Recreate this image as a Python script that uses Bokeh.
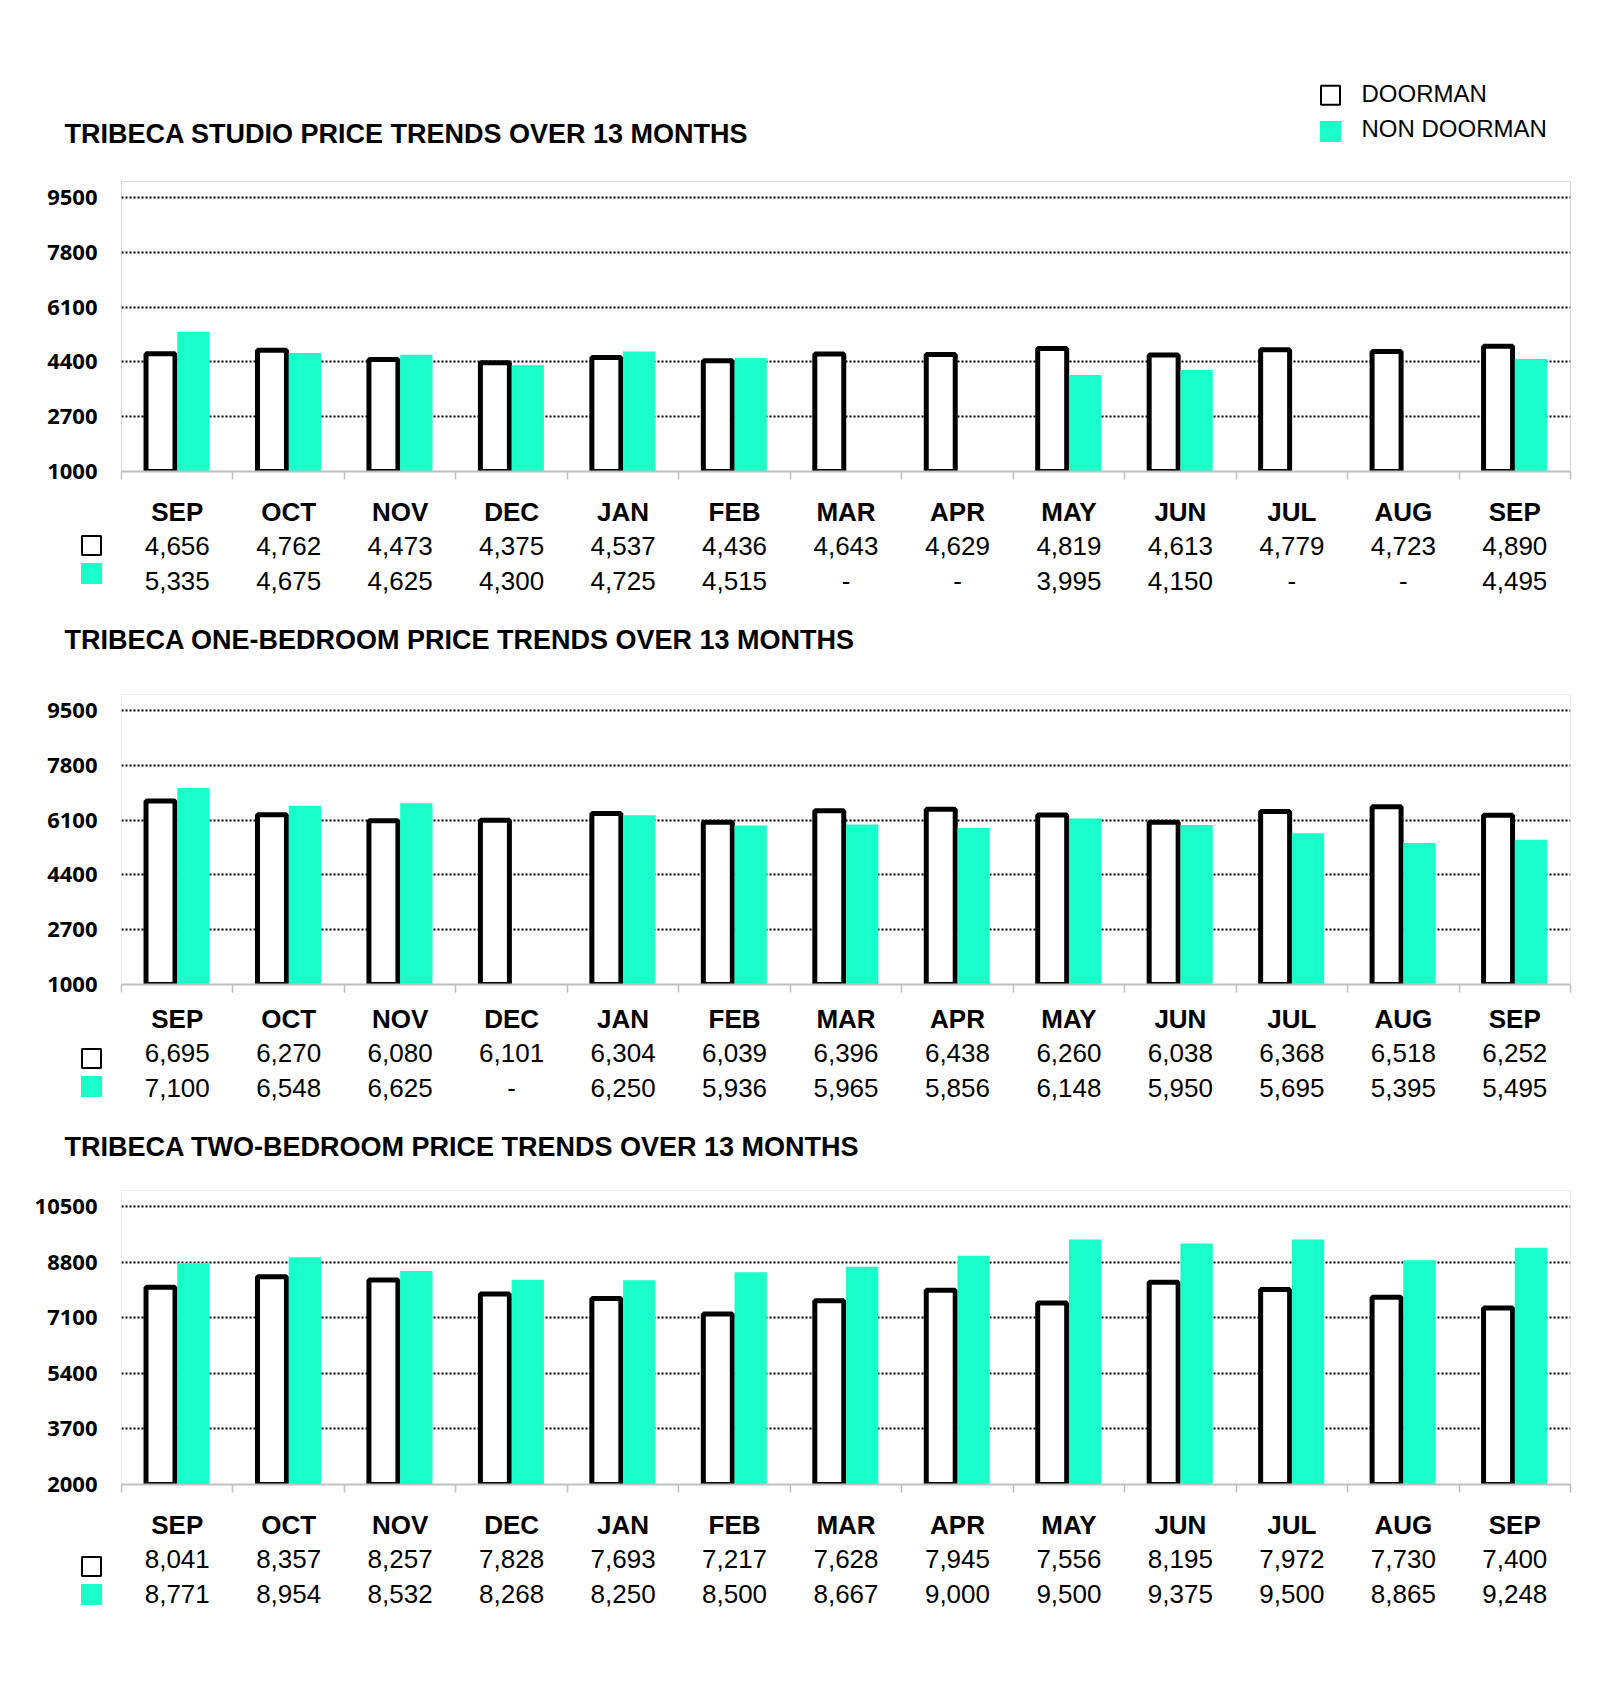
import math
from bokeh.plotting import figure
from bokeh.models import Range1d, FixedTicker, ColumnDataSource
from bokeh.layouts import column
from bokeh.embed import file_html
from bokeh.resources import INLINE
from bokeh.core.properties import value
from bokeh.transform import dodge

# ---------------- data ----------------
months = ["SEP", "OCT", "NOV", "DEC", "JAN", "FEB", "MAR", "APR", "MAY", "JUN", "JUL", "AUG", "SEP"]

studio_doorman = [4656, 4762, 4473, 4375, 4537, 4436, 4643, 4629, 4819, 4613, 4779, 4723, 4890]
studio_non_doorman = [5335, 4675, 4625, 4300, 4725, 4515, None, None, 3995, 4150, None, None, 4495]

one_bed_doorman = [6695, 6270, 6080, 6101, 6304, 6039, 6396, 6438, 6260, 6038, 6368, 6518, 6252]
one_bed_non_doorman = [7100, 6548, 6625, None, 6250, 5936, 5965, 5856, 6148, 5950, 5695, 5395, 5495]

two_bed_doorman = [8041, 8357, 8257, 7828, 7693, 7217, 7628, 7945, 7556, 8195, 7972, 7730, 7400]
two_bed_non_doorman = [8771, 8954, 8532, 8268, 8250, 8500, 8667, 9000, 9500, 9375, 9500, 8865, 9248]

studio_ticks = [1000, 2700, 4400, 6100, 7800, 9500]
one_bed_ticks = [1000, 2700, 4400, 6100, 7800, 9500]
two_bed_ticks = [2000, 3700, 5400, 7100, 8800, 10500]
studio_tick_labels = ["1000", "2700", "4400", "6100", "7800", "9500"]
one_bed_tick_labels = ["1000", "2700", "4400", "6100", "7800", "9500"]
two_bed_tick_labels = ["2000", "3700", "5400", "7100", "8800", "10500"]

titles = [
    "TRIBECA STUDIO PRICE TRENDS OVER 13 MONTHS",
    "TRIBECA ONE-BEDROOM PRICE TRENDS OVER 13 MONTHS",
    "TRIBECA TWO-BEDROOM PRICE TRENDS OVER 13 MONTHS",
]
legend_labels = ["DOORMAN", "NON DOORMAN"]

# ---------------- layout / style ----------------
PAGE_W = 1600
FRAME_L, FRAME_R = 121, 1570        # page-pixel edges of every plot frame
N = len(months)
S = (FRAME_R - FRAME_L) / N
BOTTOM = 16


def px2x(px):
    return (px - FRAME_L) / S


XR = (px2x(0), px2x(PAGE_W))
GREEN = "#1AFFCA"
AXIS_GRAY = "#bfbfbf"
ARIAL = value("Liberation Sans")


def fmt(v):
    return "-" if v is None else f"{v:,}"


def text_fig(h):
    p = figure(width=PAGE_W, height=h, x_range=Range1d(*XR), y_range=Range1d(h, 0),
               output_backend="svg", toolbar_location=None,
               x_axis_location=None, y_axis_location=None, frame_align=False,
               min_border=0, min_border_left=0, min_border_right=0,
               min_border_top=0, min_border_bottom=0)
    p.grid.visible = False
    p.outline_line_color = None
    p.background_fill_color = "white"
    return p


def add_title(p, text, yc):
    p.text(x=[px2x(64)], y=[yc], text=[text], text_font=ARIAL, text_font_style="bold",
           text_font_size="27px", text_align="left", text_baseline="alphabetic", text_color="black")


def add_table(p, dvals, gvals, y_m, y_d, y_g, sq_d, sq_g):
    src = ColumnDataSource(dict(x=[i + 0.5 for i in range(N)], m=months,
                                d=[fmt(v) for v in dvals], g=[fmt(v) for v in gvals]))
    p.text(x="x", y=y_m, text="m", source=src, text_font=ARIAL, text_font_style="bold",
           text_font_size="26px", text_align="center", text_baseline="alphabetic", text_color="black")
    p.text(x="x", y=y_d, text="d", source=src, text_font=ARIAL,
           text_font_size="26px", text_align="center", text_baseline="alphabetic", text_color="black")
    p.text(x="x", y=y_g, text="g", source=src, text_font=ARIAL,
           text_font_size="26px", text_align="center", text_baseline="alphabetic", text_color="black")
    p.scatter(x=[px2x(91)], y=[sq_d], marker="square", size=19, fill_color="white",
              line_color="black", line_width=2)
    p.scatter(x=[px2x(91)], y=[sq_g], marker="square", size=21, fill_color=GREEN, line_color=None)


def bar_fig(frame_h, ymin, ymax, ticks, tick_labels, dvals, gvals, outline):
    p = figure(width=PAGE_W, height=frame_h + BOTTOM, x_range=Range1d(0, N), y_range=Range1d(ymin, ymax),
               output_backend="svg", toolbar_location=None, frame_align=False,
               min_border=0, min_border_left=FRAME_L, min_border_right=PAGE_W - FRAME_R,
               min_border_top=0, min_border_bottom=BOTTOM)
    src = ColumnDataSource(dict(x=[i + 0.5 for i in range(N)], d=dvals,
                                g=[math.nan if v is None else v for v in gvals]))
    p.vbar(x=dodge("x", -0.15, range=p.x_range), top="d", bottom=ymin, width=0.26, source=src,
           fill_color="white", line_color="black", line_width=5)
    p.vbar(x=dodge("x", 0.145, range=p.x_range), top="g", bottom=ymin, width=0.29, source=src,
           fill_color=GREEN, line_color=None)

    xa = p.xaxis[0]
    xa.ticker = FixedTicker(ticks=[], minor_ticks=list(range(N + 1)))
    xa.axis_line_color = AXIS_GRAY
    xa.axis_line_width = 2
    xa.major_tick_line_color = None
    xa.minor_tick_line_color = AXIS_GRAY
    xa.minor_tick_line_width = 1.5
    xa.minor_tick_in = 0
    xa.minor_tick_out = 8

    ya = p.yaxis[0]
    ya.ticker = FixedTicker(ticks=ticks)
    ya.major_label_overrides = {t: lab for t, lab in zip(ticks, tick_labels)}
    ya.axis_line_color = None
    ya.major_tick_line_color = None
    ya.minor_tick_line_color = None
    ya.major_label_standoff = 18
    ya.major_label_text_font = "Open Sans"
    ya.major_label_text_font_style = "bold"
    ya.major_label_text_font_size = "22px"
    ya.major_label_text_color = "black"

    p.xgrid.visible = False
    p.ygrid.ticker = FixedTicker(ticks=ticks[1:])
    p.ygrid.grid_line_color = "black"
    p.ygrid.grid_line_dash = "2 2"
    p.ygrid.grid_line_width = 2.2
    p.outline_line_color = outline
    return p


# header with first title and legend (page y 0 -> 181)
h1 = text_fig(181)
add_title(h1, titles[0], 133.8)
h1.scatter(x=[px2x(1330)], y=[94.7], marker="square", size=19, fill_color="white",
           line_color="black", line_width=2)
h1.scatter(x=[px2x(1330)], y=[131], marker="square", size=21, fill_color=GREEN, line_color=None)
h1.text(x=[px2x(1361), px2x(1361)], y=[93.3, 128], text=legend_labels, text_font=ARIAL,
        text_font_size="24px", text_align="left", text_baseline="alphabetic", text_color="black")

b1 = bar_fig(290, 1000, 10000, studio_ticks, studio_tick_labels, studio_doorman, studio_non_doorman, "#d6d6d6")

m1 = text_fig(207)   # page 487 -> 694
add_table(m1, studio_doorman, studio_non_doorman, 24.7, 58.7, 93.7, 58, 86)
add_title(m1, titles[1], 152.5)

b2 = bar_fig(290, 1000, 10000, one_bed_ticks, one_bed_tick_labels, one_bed_doorman, one_bed_non_doorman, "#ececec")

m2 = text_fig(190)   # page 1000 -> 1190
add_table(m2, one_bed_doorman, one_bed_non_doorman, 18, 52, 87, 58, 86)
add_title(m2, titles[2], 146)

b3 = bar_fig(294, 2000, 11000, two_bed_ticks, two_bed_tick_labels, two_bed_doorman, two_bed_non_doorman, "#ececec")

t3 = text_fig(200)   # page 1500 -> 1700
add_table(t3, two_bed_doorman, two_bed_non_doorman, 24, 58, 93, 66, 94)

page = column(h1, b1, m1, b2, m2, b3, t3, spacing=0)

open("out.html", "w").write(file_html(page, INLINE))
